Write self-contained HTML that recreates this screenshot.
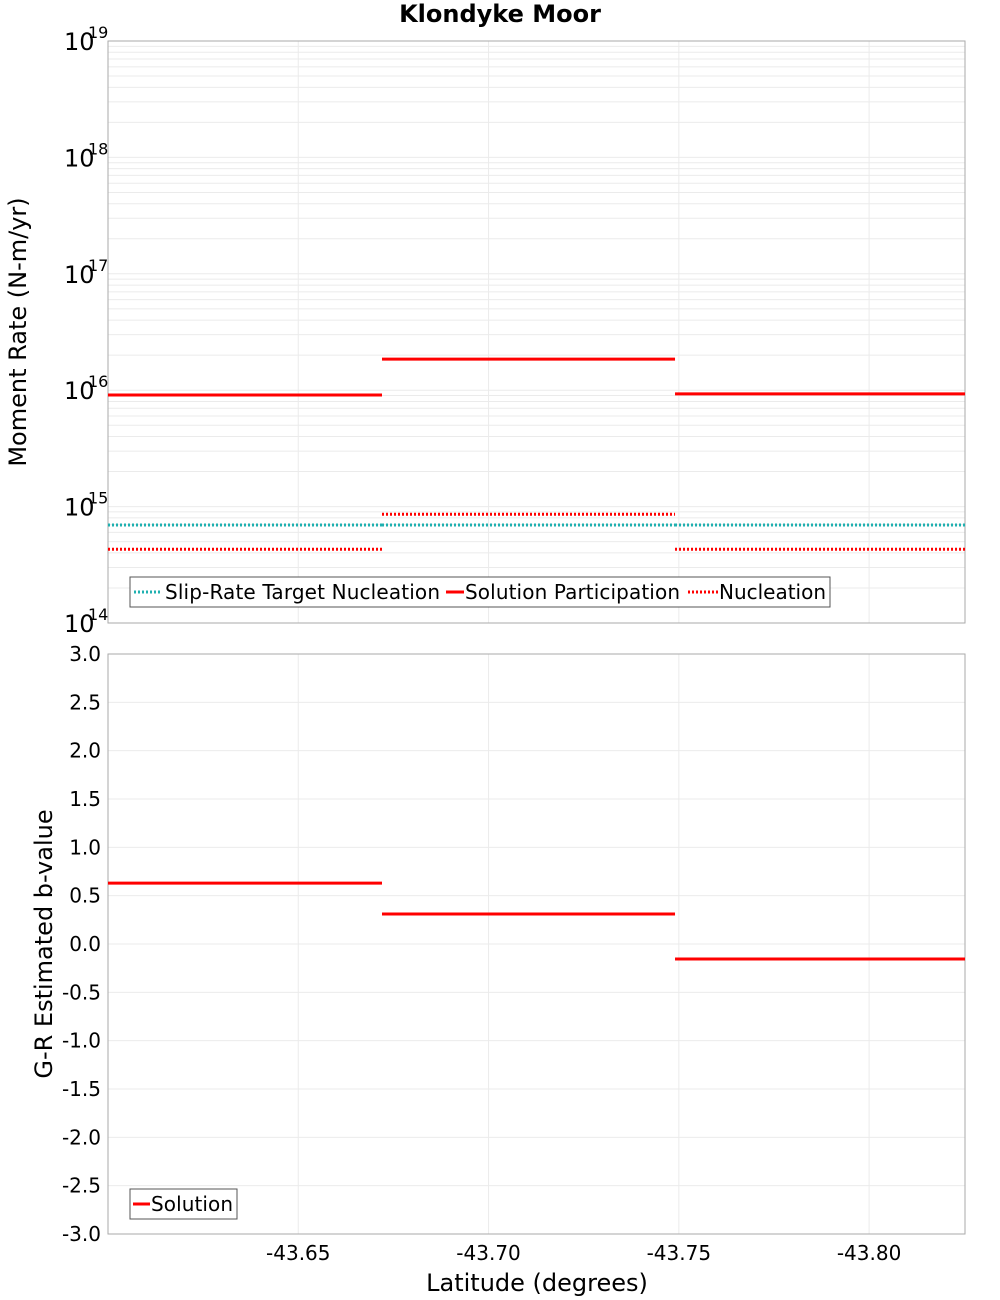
<!DOCTYPE html>
<html><head><meta charset="utf-8"><style>
body{margin:0;background:#fff;}
svg{display:block;font-family:"DejaVu Sans","Liberation Sans",sans-serif;}
</style></head><body>
<svg id="c" width="1000" height="1300" xmlns="http://www.w3.org/2000/svg">
<text x="500" y="22" text-anchor="middle" font-size="24" font-weight="bold">Klondyke Moor</text>
<g id="topPanel"></g>
<g id="botPanel"></g>
<text transform="translate(26,332) rotate(-90)" text-anchor="middle" font-size="24">Moment Rate (N-m/yr)</text>
<text transform="translate(52,944) rotate(-90)" text-anchor="middle" font-size="24">G-R Estimated b-value</text>
<text x="537" y="1291" text-anchor="middle" font-size="24">Latitude (degrees)</text>
</svg>
<script>
const segBounds = [-43.600, -43.672, -43.749, -43.8252];
const participation = [9.1e15, 1.85e16, 9.3e15];
const nucleation = [4.3e14, 8.6e14, 4.3e14];
const slipTarget = [6.95e14, 6.95e14, 6.95e14];
const bValues = [0.63, 0.31, -0.155];
const xTicks = [-43.65, -43.70, -43.75, -43.80];
const xTickLabels = ["-43.65", "-43.70", "-43.75", "-43.80"];
const logDecades = [14, 15, 16, 17, 18, 19];
const bTicks = [3.0,2.5,2.0,1.5,1.0,0.5,0.0,-0.5,-1.0,-1.5,-2.0,-2.5,-3.0];

const NS="http://www.w3.org/2000/svg";
const L=108,R=965,T1=41,B1=623,T2=654,B2=1234;
const xMin=-43.600,xMax=-43.8252;
const xs=v=>L+(v-xMin)/(xMax-xMin)*(R-L);
const ly=v=>B1-(Math.log10(v)-14)/5*(B1-T1);
const by=v=>B2-(v+3)/6*(B2-T2);
function mk(parent,tag,attrs,text){const e=document.createElementNS(NS,tag);for(const k in attrs)e.setAttribute(k,attrs[k]);if(text!==undefined)e.textContent=text;parent.appendChild(e);return e;}
const topG=document.getElementById('topPanel'),botG=document.getElementById('botPanel');
for(let d=14;d<19;d++)for(let m=1;m<10;m++){const y=ly(m*Math.pow(10,d));const g=mk(topG,'line',{x1:L,x2:R,y1:y,y2:y,stroke:'#ebebeb','stroke-width':1});

}
for(const t of xTicks){for(const [p,a,b] of [[topG,T1,B1],[botG,T2,B2]]){const g=mk(p,'line',{x1:xs(t),x2:xs(t),y1:a,y2:b,stroke:'#ebebeb'});

}}
for(const t of bTicks){const g=mk(botG,'line',{x1:L,x2:R,y1:by(t),y2:by(t),stroke:'#ebebeb'});

}
let f=mk(topG,'rect',{x:L,y:T1,width:R-L,height:B1-T1,fill:'none',stroke:'#aaa'});


f=mk(botG,'rect',{x:L,y:T2,width:R-L,height:B2-T2,fill:'none',stroke:'#aaa'});


for(const d of logDecades){const y=ly(Math.pow(10,d));const t=mk(topG,'text',{x:64,y:y+9,'font-size':24},'10');


const s=mk(topG,'text',{x:88,y:y-3,'font-size':16},String(d));

}
for(const t of bTicks){const e=mk(botG,'text',{x:101,y:by(t)+7,'text-anchor':'end','font-size':20},t.toFixed(1));

}
xTicks.forEach((t,i)=>{const e=mk(botG,'text',{x:xs(t),y:1260,'text-anchor':'middle','font-size':20},xTickLabels[i]);

});
for(let i=0;i<3;i++){const x1=xs(segBounds[i]),x2=xs(segBounds[i+1]);
let e=mk(topG,'line',{x1,x2,y1:ly(slipTarget[i]),y2:ly(slipTarget[i]),stroke:'#1fb0b0','stroke-width':3,'stroke-dasharray':'2,2'});


e=mk(topG,'line',{x1,x2,y1:ly(nucleation[i]),y2:ly(nucleation[i]),stroke:'#f00','stroke-width':3,'stroke-dasharray':'2,2'});


e=mk(topG,'line',{x1,x2,y1:ly(participation[i]),y2:ly(participation[i]),stroke:'#f00','stroke-width':3});


e=mk(botG,'line',{x1,x2,y1:by(bValues[i]),y2:by(bValues[i]),stroke:'#f00','stroke-width':3});

}
let lg=mk(topG,'g',{});


mk(lg,'rect',{x:130,y:577,width:700,height:30,fill:'#fff',stroke:'#555'});
mk(lg,'line',{x1:134,x2:162,y1:592,y2:592,stroke:'#1fb0b0','stroke-width':3,'stroke-dasharray':'2,2'});
mk(lg,'text',{x:165,y:599,'font-size':20,textLength:275},'Slip-Rate Target Nucleation');
mk(lg,'line',{x1:446,x2:464,y1:592,y2:592,stroke:'#f00','stroke-width':3});
mk(lg,'text',{x:465,y:599,'font-size':20,textLength:215},'Solution Participation');
mk(lg,'line',{x1:688,x2:718,y1:592,y2:592,stroke:'#f00','stroke-width':3,'stroke-dasharray':'2,2'});
mk(lg,'text',{x:719,y:599,'font-size':20,textLength:107},'Nucleation');
let lg2=mk(botG,'g',{});


mk(lg2,'rect',{x:130,y:1189,width:107,height:30,fill:'#fff',stroke:'#555'});
mk(lg2,'line',{x1:133,x2:150,y1:1204,y2:1204,stroke:'#f00','stroke-width':3});
mk(lg2,'text',{x:151,y:1211,'font-size':20,textLength:82},'Solution');
</script>
</body></html>
